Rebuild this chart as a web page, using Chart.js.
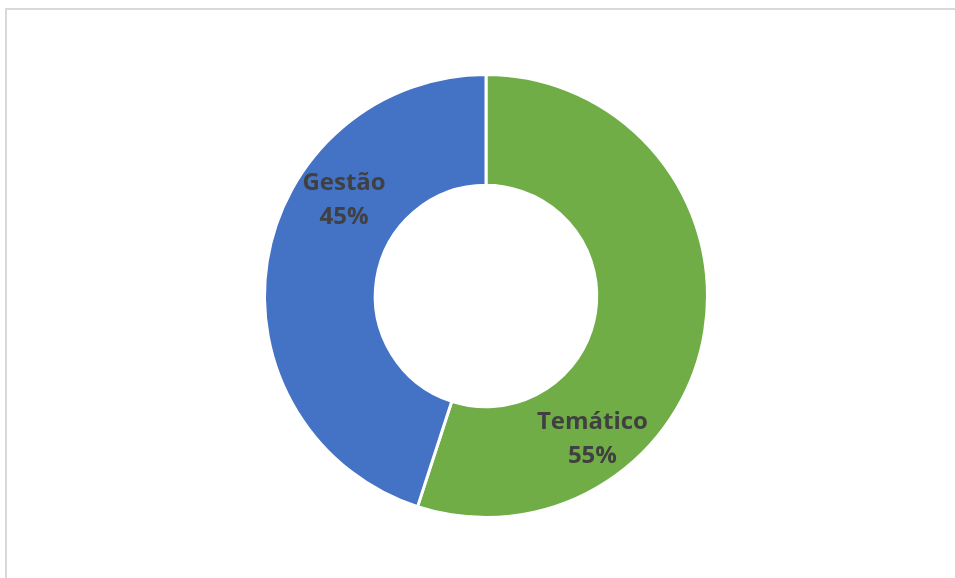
<!DOCTYPE html>
<html>
<head>
<meta charset="utf-8">
<script src="https://cdn.jsdelivr.net/npm/chart.js@4"></script>
<style>
  html, body { margin: 0; padding: 0; background: #fff; }
  .wrap { position: relative; width: 955px; height: 578px; overflow: hidden; }
  .frame { position: absolute; left: 5px; top: 8px; width: 1000px; height: 600px;
           border-left: 2px solid #d9d9d9; border-top: 2px solid #d9d9d9; }
  canvas { position: absolute; left: 0; top: 0; }
</style>
</head>
<body>
<div class="wrap">
  <div class="frame"></div>
  <canvas id="grafico" width="955" height="578"></canvas>
</div>
<script>
const categorias = ['Temático', 'Gestão'];
const valores = [55, 45];
const cores = ['#70AD47', '#4472C4'];

// onde fica cada rotulo dentro da fatia (fracao do angulo, fracao do anel)
const posRotulo = [
  { ang: 0.724, raio: 0.61 },
  { ang: 0.654, raio: 0.545 }
];

const rotulos = {
  id: 'rotulos',
  afterDatasetsDraw(chart) {
    const ctx = chart.ctx;
    const meta = chart.getDatasetMeta(0);
    const total = valores.reduce((a, b) => a + b, 0);
    ctx.save();
    ctx.font = 'bold 24px "Open Sans"';
    ctx.fillStyle = '#404040';
    ctx.textAlign = 'center';
    ctx.textBaseline = 'middle';
    meta.data.forEach((arc, i) => {
      const p = arc.getProps(['x', 'y', 'startAngle', 'endAngle', 'innerRadius', 'outerRadius'], true);
      const a = p.startAngle + posRotulo[i].ang * (p.endAngle - p.startAngle);
      const r = p.innerRadius + posRotulo[i].raio * (p.outerRadius - p.innerRadius);
      const cx = p.x + Math.cos(a) * r;
      const cy = p.y + Math.sin(a) * r;
      const pct = Math.round(valores[i] / total * 100) + '%';
      ctx.fillText(categorias[i], cx, cy - 17);
      ctx.fillText(pct, cx, cy + 17);
    });
    ctx.restore();
  }
};

const ctx = document.getElementById('grafico');
new Chart(ctx, {
  type: 'doughnut',
  data: {
    labels: categorias,
    datasets: [{
      data: valores,
      backgroundColor: cores,
      borderColor: '#ffffff',
      borderWidth: 3
    }]
  },
  options: {
    responsive: false,
    animation: false,
    cutout: '50%',
    layout: { padding: { top: 73, bottom: 59, left: 263, right: 246 } },
    plugins: {
      legend: { display: false },
      tooltip: { enabled: false }
    }
  },
  plugins: [rotulos]
});
</script>
</body>
</html>
